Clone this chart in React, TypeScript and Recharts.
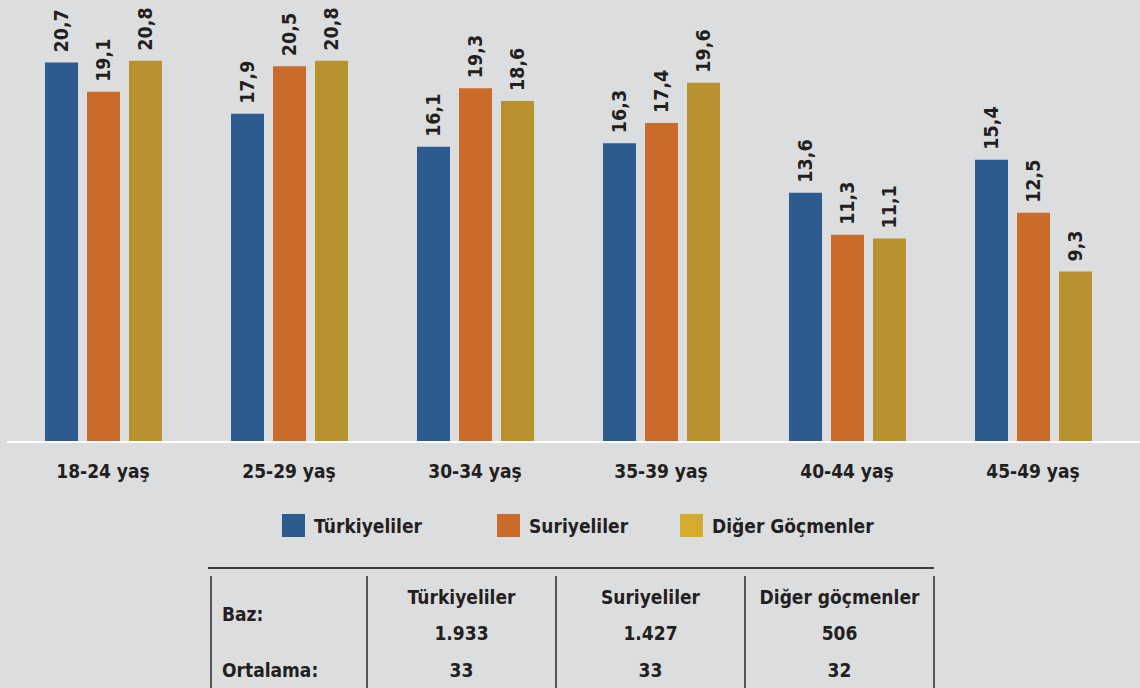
import React from 'react';
import {BarChart, Bar, XAxis, YAxis, LabelList} from 'recharts';

const categories = ['18-24 yaş', '25-29 yaş', '30-34 yaş', '35-39 yaş', '40-44 yaş', '45-49 yaş'];
const turkiyeliler = [20.7, 17.9, 16.1, 16.3, 13.6, 15.4];
const suriyeliler = [19.1, 20.5, 19.3, 17.4, 11.3, 12.5];
const digerGocmenler = [20.8, 20.8, 18.6, 19.6, 11.1, 9.3];

const seriesNames = ['Türkiyeliler', 'Suriyeliler', 'Diğer Göçmenler'];
const tableHeaders = ['Türkiyeliler', 'Suriyeliler', 'Diğer göçmenler'];
const bazValues = ['1.933', '1.427', '506'];
const ortalamaValues = ['33', '33', '32'];

const BAR_COLORS = ['#2d5a8f', '#cb6b2b', '#b7922f'];
const LEGEND_COLORS = ['#2d5a8f', '#cb6b2b', '#d4ab2a'];
const TEXT = '#231f20';
const FONT = '"DejaVu Sans Condensed", "DejaVu Sans", sans-serif';
const BG = '#dcdddf';

const chartData = categories.map((name, i) => ({
  name,
  t: turkiyeliler[i],
  s: suriyeliler[i],
  d: digerGocmenler[i]
}));

const fmt = (v: number) => v.toFixed(1).replace('.', ',');

const RotatedLabel = (props: any) => {
  const {x, y, width, value} = props;
  const cx = Number(x) + Number(width) / 2;
  const cy = Number(y) - 10;
  return (
    <text
      x={cx}
      y={cy}
      transform={`rotate(-90 ${cx} ${cy})`}
      textAnchor="start"
      dominantBaseline="central"
      fill={TEXT}
      fontSize={19.5}
      fontWeight={700}
      fontFamily={FONT}
    >
      {fmt(Number(value))}
    </text>
  );
};

// legend square positions
const legendX = [282, 497, 680];

const colX = [211, 367, 556, 745, 934];

export default function App() {
  const keys = ['t', 's', 'd'];
  return (
    <div style={{position: 'absolute', left: 0, top: 0, width: 1140, height: 688, background: BG, overflow: 'hidden', fontFamily: FONT}}>
      <BarChart width={1140} height={500} data={chartData} margin={{top: 2, right: 0, bottom: 0, left: 7}} barGap={9} barSize={33}>
        <XAxis
          dataKey="name"
          axisLine={{stroke: '#ffffff', strokeWidth: 2}}
          tickLine={false}
          tickSize={0}
          tickMargin={23}
          height={58}
          padding={{left: 3, right: 14}}
          tick={{fill: TEXT, fontSize: 19, fontWeight: 700, fontFamily: FONT}}
        />
        <YAxis hide domain={[0, 24]} />
        {keys.map((k, i) => (
          <Bar key={k} dataKey={k} name={seriesNames[i]} fill={BAR_COLORS[i]} isAnimationActive={false}>
            <LabelList dataKey={k} content={<RotatedLabel />} />
          </Bar>
        ))}
      </BarChart>

      {seriesNames.map((n, i) => (
        <div key={n} style={{position: 'absolute', left: legendX[i], top: 514, display: 'flex', alignItems: 'center', height: 23}}>
          <span style={{width: 23, height: 23, background: LEGEND_COLORS[i], display: 'inline-block', marginRight: 9}} />
          <span style={{fontSize: 19, fontWeight: 700, color: TEXT, whiteSpace: 'nowrap'}}>{n}</span>
        </div>
      ))}

      <div style={{position: 'absolute', left: 208, top: 567, width: 726, height: 2, background: '#3b3b3b'}} />
      {colX.map((x) => (
        <div key={x} style={{position: 'absolute', left: x - 1, top: 576, width: 1.5, height: 112, background: '#555'}} />
      ))}
      <div style={{position: 'absolute', left: 222, top: 603, fontSize: 19, fontWeight: 700, color: TEXT}}>Baz:</div>
      <div style={{position: 'absolute', left: 222, top: 659, fontSize: 19, fontWeight: 700, color: TEXT}}>Ortalama:</div>
      {tableHeaders.map((h, i) => (
        <React.Fragment key={h}>
          <div style={{position: 'absolute', left: colX[i + 1], width: colX[i + 2] - colX[i + 1], top: 586, textAlign: 'center', fontSize: 19, fontWeight: 700, color: TEXT}}>{h}</div>
          <div style={{position: 'absolute', left: colX[i + 1], width: colX[i + 2] - colX[i + 1], top: 622, textAlign: 'center', fontSize: 19, fontWeight: 700, color: TEXT}}>{bazValues[i]}</div>
          <div style={{position: 'absolute', left: colX[i + 1], width: colX[i + 2] - colX[i + 1], top: 659, textAlign: 'center', fontSize: 19, fontWeight: 700, color: TEXT}}>{ortalamaValues[i]}</div>
        </React.Fragment>
      ))}
    </div>
  );
}
